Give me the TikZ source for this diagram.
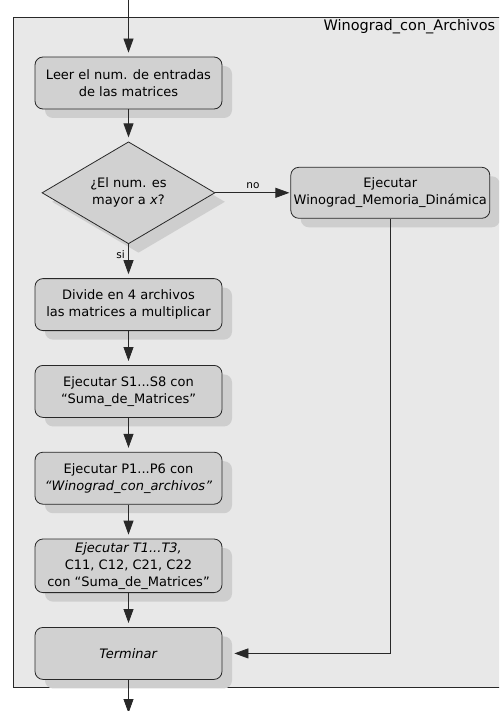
\documentclass[tikz,border=0pt]{standalone}
\usepackage{fontspec}
\setsansfont{DejaVu Sans}
\usetikzlibrary{arrows.meta,positioning,shapes.geometric,shadows}
\definecolor{framegray}{RGB}{232,232,232}
\definecolor{boxgray}{RGB}{209,209,209}
\definecolor{shadegray}{RGB}{206,206,206}
\definecolor{linegray}{RGB}{40,40,40}

\begin{document}
\begin{tikzpicture}[x=1pt, y=-1pt, node distance=34pt,
  font={\sffamily\fontsize{13}{17}\selectfont},
  shade/.style={drop shadow={shadow xshift=10pt, shadow yshift=-9pt, fill=shadegray, opacity=1}},
  box/.style={draw=linegray, line width=0.8pt, rounded corners=8pt, fill=boxgray, align=center, minimum width=187pt, minimum height=52pt, inner xsep=1pt, shade},
  choice/.style={diamond, draw=linegray, line width=0.8pt, fill=boxgray, align=center, aspect=1.7, inner sep=0pt, minimum width=173pt, minimum height=102pt, shade},
  arr/.style={draw=linegray, line width=0.8pt, -{Triangle[length=14pt,width=10pt]}, shorten >=4pt},
  lbl/.style={font={\sffamily\fontsize{10.5}{12}\selectfont}}]
  \useasboundingbox (0,0) rectangle (499,711);
  \clip (0,0) rectangle (499,711);
  % frame of the activity
  \draw[draw=linegray, line width=0.8pt, fill=framegray] (13,17) rectangle (530,687);
  \node[anchor=west, font={\sffamily\fontsize{14.5}{17}\selectfont}] (title) at (320,27) {Winograd\_con\_Archivos};
  \coordinate (in) at (128.5,0);
  \coordinate (out) at (128.5,713);
  % steps
  \node[box] (read) at (128.5,83) {Leer el num. de entradas\\de las matrices};
  \node[choice, below=32pt of read] (dec) {¿El num. es\\mayor a \textit{x}?};
  \node[box, right=75pt of dec, minimum width=199pt, minimum height=51pt] (dyn) {Ejecutar\\Winograd\_Memoria\_Dinámica};
  \node[box, below=of dec] (split) {Divide en 4 archivos\\las matrices a multiplicar};
  \node[box, below=of split] (sums) {Ejecutar S1...S8 con\\“Suma\_de\_Matrices”};
  \node[box, below=of sums] (prods) {Ejecutar P1...P6 con\\\textit{“Winograd\_con\_archivos”}};
  \node[box, below=of prods] (comb) {\textit{Ejecutar T1...T3,}\\C11, C12, C21, C22\\con “Suma\_de\_Matrices”};
  \node[box, below=of comb] (end) {\textit{Terminar}};
  % connectors
  \foreach \a/\b in {in/read, read/dec, split/sums, sums/prods, prods/comb, comb/end} {\draw[arr] (\a) -- (\b);}
  \draw[arr, shorten >=1pt] (dec) -- node[lbl, above] {no} (dyn);
  \draw[arr] (dec) -- node[lbl, pos=0.3, left] {si} (split);
  \draw[arr, shorten >=12pt] (dyn) |- (end);
  \draw[arr, shorten >=0pt] (end) -- (out);
\end{tikzpicture}
\end{document}
